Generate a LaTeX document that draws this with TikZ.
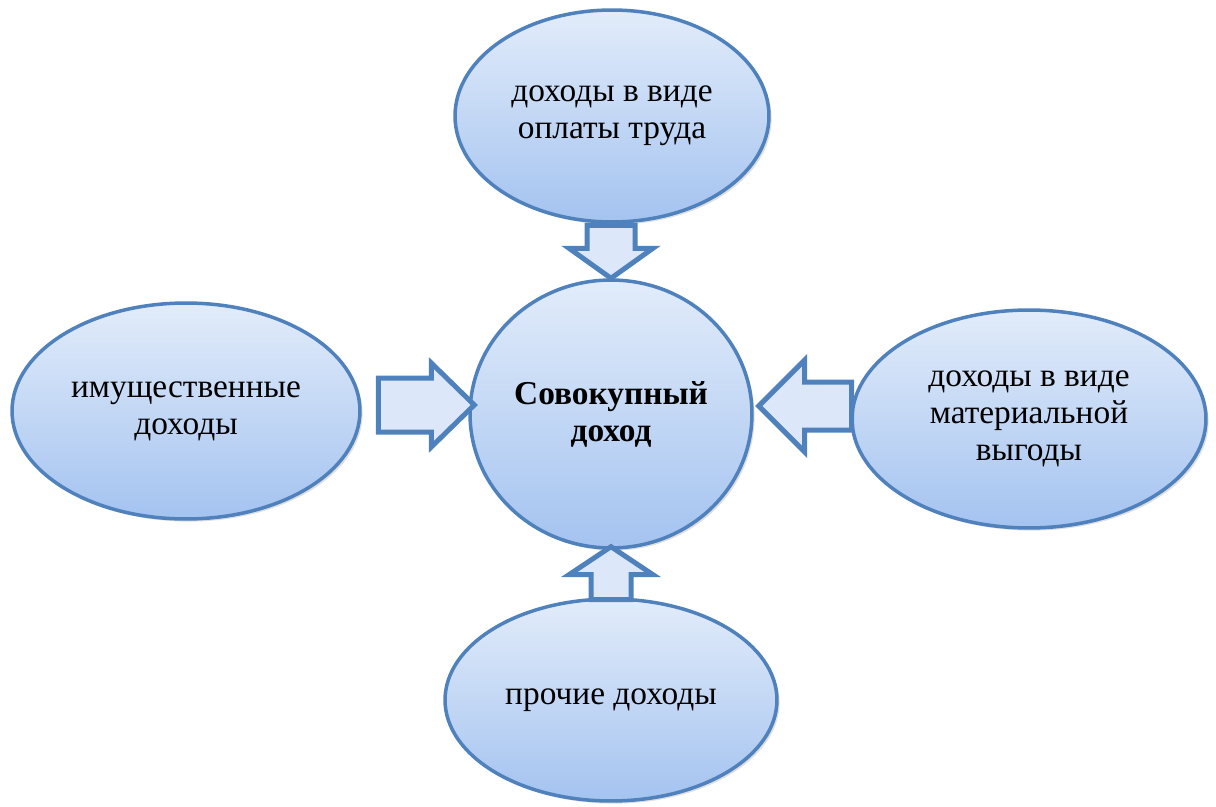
\documentclass[tikz,border=0pt]{standalone}
\usepackage{fontspec}
\setmainfont{Liberation Serif}
\usetikzlibrary{shapes.geometric,shadows,calc}
\definecolor{rim}{HTML}{4F81BD}
\definecolor{lighttop}{HTML}{E2ECFA}
\definecolor{lightbot}{HTML}{A4C3F0}
\definecolor{arrowfill}{HTML}{DCE7F9}
% block arrow: tip, rotation, shaft end, head base, shaft half width, head half width
\newcommand{\inflow}[6]{%
  \draw[flow, shift={(#1)}, rotate=#2] (0,0) -- (-#4,#6) -- (-#4,#5) -- (-#3,#5)
    -- (-#3,-#5) -- (-#4,-#5) -- (-#4,-#6) -- cycle;}

\begin{document}
\begin{tikzpicture}[x=0.02cm, y=-0.02cm, font=\fontsize{19}{21}\selectfont,
    bubble/.style={ellipse, draw=rim, line width=0.07cm, top color=lighttop, bottom color=lightbot,
      align=center, inner sep=0pt,
      drop shadow={opacity=0.25, shadow xshift=1.5pt, shadow yshift=-1.5pt}},
    flow/.style={draw=rim, line width=0.1cm, fill=arrowfill, line join=miter}]
  \useasboundingbox (0,0) rectangle (1216,807);
  % ================================================================ bubbles
  \node[bubble, minimum width=5.64cm, minimum height=5.36cm] (core) at (611,414) {\bfseries Совокупный\\ \bfseries доход};
  \node[bubble, minimum width=6.28cm, minimum height=4.24cm] (labour) at (612,116) {доходы в виде\\ оплаты труда};
  \node[bubble, minimum width=6.96cm, minimum height=4.32cm] (property) at (186,411) {имущественные\\ доходы};
  \node[bubble, minimum width=7.08cm, minimum height=4.36cm] (benefit) at (1029,419) {доходы в виде\\ материальной\\ выгоды};
  \node[bubble, minimum width=6.64cm, minimum height=4.04cm] (other) at (611,700) {прочие доходы};
  % ================================================================ arrows into the core
  \inflow{core.north}{-90}{53}{30}{24}{42}
  \inflow{$(core.west)+(6,-9)$}{0}{96}{43}{27}{42}
  \inflow{$(core.east)+(5,-8)$}{180}{93}{46}{24}{46}
  \inflow{$(core.south)+(0,-3)$}{90}{53}{28}{20}{42}
\end{tikzpicture}
\end{document}
